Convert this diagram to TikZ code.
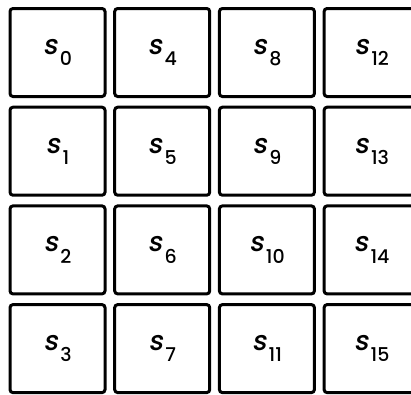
\documentclass[tikz,border=0pt]{standalone}
\usepackage{fontspec}
\setmainfont{Poppins Medium}
\newfontfamily\slantfont{Poppins Medium}[FakeSlant=0.18]
\usepackage{tikz}
\newcommand{\cellname}[1]{{\slantfont s}\hspace{2.5pt}\raisebox{-0.75ex}{\fontsize{19}{19}\selectfont #1}}

\begin{document}
\begin{tikzpicture}[x=1pt,y=-1pt,
    cell/.style={draw,line width=3pt,rounded corners=3pt,minimum width=95pt,minimum height=88pt,inner sep=0pt,font=\fontsize{27}{27}\selectfont}]
      \useasboundingbox (0,0) rectangle (411,394);
      \clip (0,0) rectangle (411,394);
      % the 4x4 grid of cells, numbered down each column
      \foreach \col in {0,...,3}{
        \foreach \row in {0,...,3}{
          \pgfmathtruncatemacro{\idx}{4*\col+\row}
          \node[cell] (s\idx) at ({57.5+104.7*\col},{52.5+98.7*\row}) {\cellname{\idx}};
        }
      }
    \end{tikzpicture}
\end{document}
